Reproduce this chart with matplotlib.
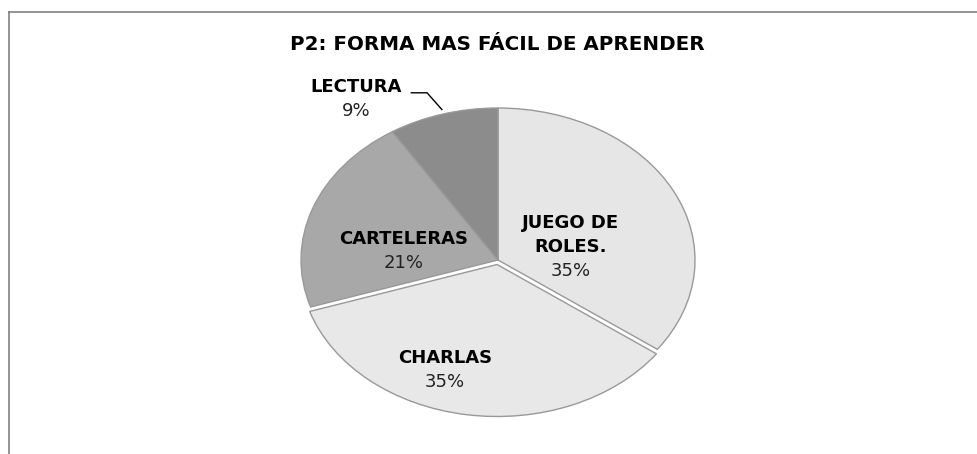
import matplotlib
matplotlib.use("Agg")
import matplotlib.pyplot as plt
import numpy as np
from matplotlib.lines import Line2D

title = "P2: FORMA MAS FÁCIL DE APRENDER"
categories = ["JUEGO DE\nROLES.", "CHARLAS", "CARTELERAS", "LECTURA"]
values = [35, 35, 21, 9]
colors = ["#e6e6e6", "#e8e8e8", "#a8a8a8", "#8c8c8c"]
explode = [0, 0.03, 0, 0]
# label block centres in axes-data units (pie radius = 1)
label_pos = [(0.37, 0.10), (-0.27, -0.71), (-0.48, 0.07), (-0.72, 1.07)]

W, H = 977, 454
fig = plt.figure(figsize=(W / 100, H / 100), dpi=100)
fig.patch.set_facecolor("white")

# frame (left and top only visible)
fig.add_artist(Line2D([8.5 / W, 8.5 / W], [0, 1 - 11.5 / H], transform=fig.transFigure,
                      color="#808080", lw=1.2))
fig.add_artist(Line2D([8.5 / W, 1], [1 - 11.5 / H, 1 - 11.5 / H], transform=fig.transFigure,
                      color="#808080", lw=1.2))

cx, cy, rx, ry = 498, 260, 197, 152
ax = fig.add_axes([(cx - rx) / W, (H - cy - ry) / H, 2 * rx / W, 2 * ry / H])
wedges, _ = ax.pie(values, colors=colors, startangle=90, counterclock=False,
                   explode=explode, radius=1,
                   wedgeprops=dict(edgecolor="#999999", linewidth=1.0))
for w in wedges:
    w.set_clip_on(False)
ax.set_aspect("auto")
ax.set_xlim(-1, 1)
ax.set_ylim(-1, 1)
ax.axis("off")

fam = ["DejaVu Sans"]
step = 0.158
for (x, y), cat, v in zip(label_pos, categories, values):
    lines = cat.split("\n") + [f"{v}%"]
    n = len(lines)
    top = y + step * (n - 1) / 2
    for i, line in enumerate(lines):
        is_pct = i == n - 1
        ax.text(x, top - step * i, line, ha="center", va="center_baseline",
                fontsize=13, fontweight="normal" if is_pct else "bold",
                family=fam, color="#222222" if is_pct else "black", clip_on=False)

# leader line for LECTURA
ax.plot([-0.44, -0.36, -0.285], [1.10, 1.10, 0.99], color="black", lw=1.0, clip_on=False)

fig.text(497 / W, 1 - 42 / H, title, ha="center", va="center_baseline", fontsize=14.3,
         fontweight="bold", family=["DejaVu Sans"])

fig.savefig("out.png", dpi=100)
